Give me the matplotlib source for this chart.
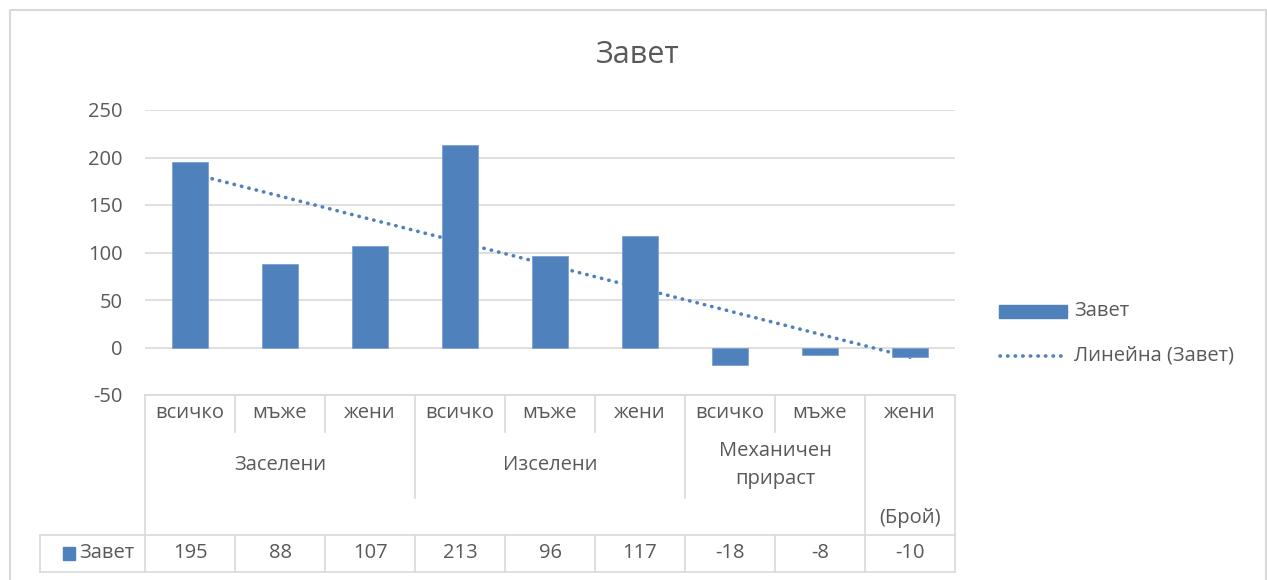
import matplotlib
matplotlib.use("Agg")
import matplotlib.pyplot as plt
import matplotlib.transforms as mtransforms
from matplotlib.patches import Rectangle
from matplotlib.lines import Line2D
import numpy as np

plt.rcParams['font.family'] = ['Open Sans', 'DejaVu Sans']
plt.rcParams['axes.unicode_minus'] = False

# data
categories = ['всичко', 'мъже', 'жени', 'всичко', 'мъже', 'жени', 'всичко', 'мъже', 'жени']
groups = ['Заселени', 'Изселени', 'Механичен\nприраст']
group_spans = [(1, 3), (4, 6), (7, 8)]
values = [195, 88, 107, 213, 96, 117, -18, -8, -10]
series_name = 'Завет'
trend_name = 'Линейна (Завет)'
unit_label = '(Брой)'

bar_color = '#4F81BD'
text_color = '#595959'
grid_color = '#D9D9D9'
fs = 14.5

W, H = 1267, 580
fig = plt.figure(figsize=(W / 100, H / 100), dpi=100)

def fy(py):
    return 1 - py / H

def fx(px):
    return px / W

ax = fig.add_axes([fx(145), fy(395), fx(955) - fx(145), fy(110) - fy(395)])

x = np.arange(1, len(values) + 1)

# trend line (ordinary least squares, like Excel)
k, b = np.polyfit(x, values, 1)
ax.plot(x, k * x + b, color=bar_color, lw=2.6, ls=(0, (0.1, 2.0)),
        dash_capstyle='round', zorder=2)
ax.bar(x, values, width=0.4, color=bar_color, edgecolor='#7EA1D2', lw=0.6, zorder=3)

ax.set_xlim(0.5, len(values) + 0.5)
ax.set_ylim(-50, 250)
ax.set_yticks(np.arange(-50, 251, 50))
ax.yaxis.grid(True, color=grid_color, lw=1.2)
ax.set_axisbelow(True)
ax.set_xticks([])
for s in ax.spines.values():
    s.set_visible(False)
ax.tick_params(axis='y', length=0, pad=16, labelsize=fs, labelcolor=text_color)

fig.text(fx(638), fy(55), series_name, ha='center', va='center',
         fontsize=22, color=text_color)

# data table below the plot
tr = mtransforms.blended_transform_factory(ax.transData, fig.transFigure)
lc = grid_color
lw = 1.2

def hline(x0, x1, py):
    ax.add_line(Line2D([x0, x1], [fy(py), fy(py)], transform=tr, color=lc, lw=lw, clip_on=False))

def vline(xv, py0, py1):
    ax.add_line(Line2D([xv, xv], [fy(py0), fy(py1)], transform=tr, color=lc, lw=lw, clip_on=False))

left_px = 40
x_left = 0.5 - (145 - left_px) / 90.0

hline(0.5, 9.5, 395)
hline(x_left, 9.5, 535)
hline(x_left, 9.5, 572)
vline(0.5, 395, 572)
vline(9.5, 395, 572)
vline(x_left, 535, 572)
for xb in [1.5, 2.5, 4.5, 5.5, 7.5]:
    vline(xb, 395, 432)
for xb in [3.5, 6.5]:
    vline(xb, 395, 498)
vline(8.5, 395, 535)
for xb in np.arange(1.5, 9.5, 1.0):
    vline(xb, 535, 572)

for xi, c in zip(x, categories):
    ax.text(xi, fy(413), c, transform=tr, ha='center', va='center',
            fontsize=fs, color=text_color)
for g, (a, z) in zip(groups, group_spans):
    ax.text((a + z) / 2, fy(465), g, transform=tr, ha='center', va='center',
            fontsize=fs, color=text_color, linespacing=1.55)
ax.text(9, fy(518), unit_label, transform=tr, ha='center', va='center',
        fontsize=fs, color=text_color)
for xi, v in zip(x, values):
    ax.text(xi, fy(553), str(v), transform=tr, ha='center', va='center',
            fontsize=fs, color=text_color)

fig.patches.append(Rectangle((fx(63), fy(560)), fx(75) - fx(63), fy(547) - fy(560),
                             transform=fig.transFigure, color=bar_color))
fig.text(fx(79), fy(553), series_name, ha='left', va='center', fontsize=fs, color=text_color)

# legend
fig.patches.append(Rectangle((fx(999), fy(318)), fx(1067) - fx(999), fy(305) - fy(318),
                             transform=fig.transFigure, color=bar_color))
fig.text(fx(1074), fy(311), series_name, ha='left', va='center', fontsize=fs, color=text_color)
fig.add_artist(Line2D([fx(1000), fx(1063)], [fy(356), fy(356)], color=bar_color, lw=2.6,
                      ls=(0, (0.1, 2.0)), dash_capstyle='round'))
fig.text(fx(1074), fy(356), trend_name, ha='left', va='center', fontsize=fs, color=text_color)

# chart border
fig.patches.append(Rectangle((fx(10), fy(600)), fx(1266) - fx(10), fy(10) - fy(600),
                             transform=fig.transFigure, fill=False, ec='#D9D9D9', lw=1.5))

fig.savefig('out.png', dpi=100, facecolor='white')
